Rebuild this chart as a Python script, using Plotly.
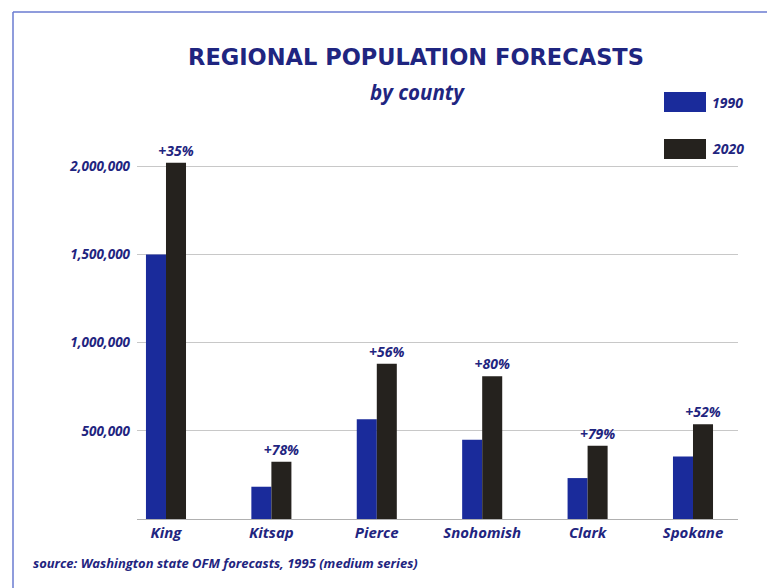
import plotly.graph_objects as go

counties = ["King", "Kitsap", "Pierce", "Snohomish", "Clark", "Spokane"]
pop_1990 = [1500000, 183000, 565000, 450000, 232000, 355000]
pop_2020 = [2020000, 325000, 880000, 810000, 415000, 537000]
growth_labels = ["+35%", "+78%", "+56%", "+80%", "+79%", "+52%"]
series_names = ["1990", "2020"]
y_tick_vals = [500000, 1000000, 1500000, 2000000]
y_tick_text = ["500,000", "1,000,000", "1,500,000", "2,000,000"]

NAVY = "#1f2580"
C1990 = "#1a2b9b"
C2020 = "#25221e"
FONT = "Open Sans"

fig = go.Figure()
fig.add_trace(go.Bar(x=counties, y=pop_1990, name=series_names[0],
                     marker=dict(color=C1990, line=dict(width=0)),
                     showlegend=False, hoverinfo="x+y"))
fig.add_trace(go.Bar(x=counties, y=pop_2020, name=series_names[1],
                     marker=dict(color=C2020, line=dict(width=0)),
                     text=["<b><i>%s</i></b>" % t for t in growth_labels],
                     textposition="outside", constraintext="none", cliponaxis=False,
                     textfont=dict(family=FONT, size=14, color=NAVY),
                     showlegend=False, hoverinfo="x+y"))

W, H = 767, 588
L, R, T, B = 137, 29, 131, 69
pw, ph = W - L - R, H - T - B

def px_x(x):
    return (x - L) / pw

def px_y(y):
    return (H - B - y) / ph

shapes = []
# frame border (blue line, top and left)
shapes.append(dict(type="line", xref="paper", yref="paper",
                   x0=px_x(13), x1=px_x(770), y0=px_y(12), y1=px_y(12),
                   line=dict(color="#6a7bd0", width=1.5)))
shapes.append(dict(type="line", xref="paper", yref="paper",
                   x0=px_x(13), x1=px_x(13), y0=px_y(12), y1=px_y(592),
                   line=dict(color="#6a7bd0", width=1.5)))

annotations = []
# legend drawn as boxes + labels
legend_colors = [C1990, C2020]
legend_tops = [92, 139]
for name, col, top in zip(series_names, legend_colors, legend_tops):
    shapes.append(dict(type="rect", xref="paper", yref="paper",
                       x0=px_x(664), x1=px_x(706), y0=px_y(top + 20), y1=px_y(top),
                       fillcolor=col, line=dict(width=0)))
    annotations.append(dict(xref="paper", yref="paper", x=px_x(710), y=px_y(top + 10),
                            xanchor="left", yanchor="middle", showarrow=False,
                            text="<b><i>%s</i></b>" % name,
                            font=dict(family=FONT, size=14, color=NAVY)))

annotations.append(dict(xref="paper", yref="paper", x=px_x(417), y=px_y(92),
                        xanchor="center", yanchor="middle", showarrow=False,
                        text="<b><i>by county</i></b>",
                        font=dict(family=FONT, size=20.5, color=NAVY)))
annotations.append(dict(xref="paper", yref="paper", x=px_x(31), y=px_y(563),
                        xanchor="left", yanchor="middle", showarrow=False,
                        text="<b><i>source: Washington state OFM forecasts, 1995 (medium series)</i></b>",
                        font=dict(family=FONT, size=13, color=NAVY)))

fig.update_layout(
    width=W, height=H,
    margin=dict(l=L, r=R, t=T, b=B, pad=0),
    paper_bgcolor="white", plot_bgcolor="white",
    barmode="group", bargap=0.62, bargroupgap=0,
    title=dict(text="<b>REGIONAL POPULATION FORECASTS</b>",
               x=416 / W, xanchor="center", y=1 - 57.5 / H, yanchor="middle",
               font=dict(family="DejaVu Sans", size=22.5, color=NAVY)),
    xaxis=dict(range=[-0.275, 5.427], showgrid=False, showline=True,
               linecolor="#b0b0b0", linewidth=1, ticks="", zeroline=False,
               tickfont=dict(family=FONT, size=15, color=NAVY),
               tickvals=counties,
               ticktext=["<b><i>%s</i></b>" % c for c in counties]),
    yaxis=dict(range=[0, 2200000], tickvals=y_tick_vals,
               ticktext=["<b><i>%s</i></b>" % t for t in y_tick_text],
               showgrid=True, gridcolor="#c8c8c8", gridwidth=1,
               zeroline=False, showline=False, ticks="", ticklabelstandoff=6,
               tickfont=dict(family=FONT, size=13.5, color=NAVY)),
    shapes=shapes, annotations=annotations,
    uniformtext=dict(mode=False),
)

fig.write_html("out.html", config={"displayModeBar": False},
               post_script="document.body.style.margin='0';document.body.style.overflow='hidden';")
